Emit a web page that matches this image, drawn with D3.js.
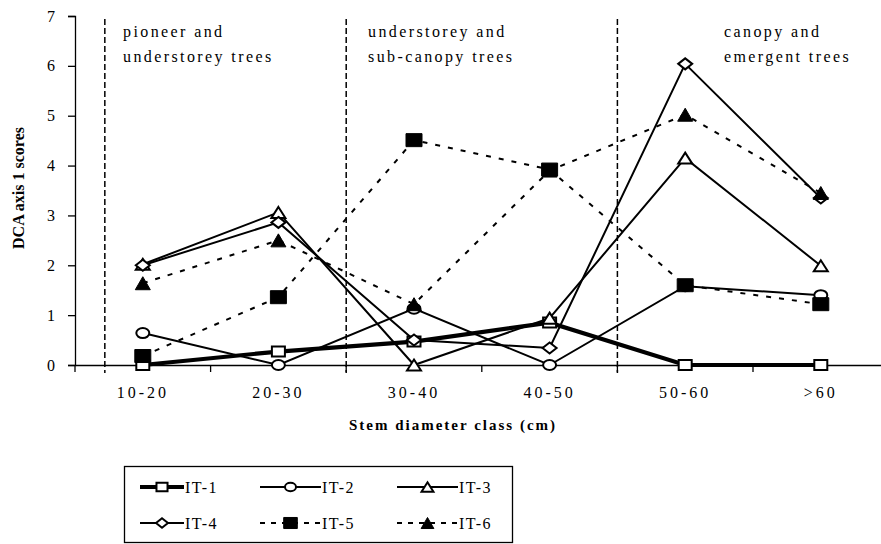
<!DOCTYPE html>
<html>
<head>
<meta charset="utf-8">
<script src="https://cdn.jsdelivr.net/npm/d3@7"></script>
<style>
  html, body { margin: 0; padding: 0; background: #fff; }
  svg { display: block; }
  text { font-family: "Liberation Serif", "Times New Roman", serif; fill: #000; }
</style>
</head>
<body>
<svg id="chart" width="881" height="544"></svg>
<script>
// ---- data ----
const categories = ["10-20", "20-30", "30-40", "40-50", "50-60", ">60"];
const yTicks = [0, 1, 2, 3, 4, 5, 6, 7];
const seriesNames = ["IT-1", "IT-2", "IT-3", "IT-4", "IT-5", "IT-6"];
const it1 = [0, 0.27, 0.47, 0.85, 0, 0];
const it2 = [0.64, 0, 1.13, 0, 1.58, 1.40];
const it3 = [2.02, 3.06, 0, 0.94, 4.15, 1.99];
const it4 = [2.0, 2.86, 0.5, 0.34, 6.04, 3.35];
const it5 = [0.18, 1.36, 4.51, 3.92, 1.6, 1.22];
const it6 = [1.64, 2.5, 1.22, 3.9, 5.02, 3.45];
const zoneBoundaries = [0.22, 2.0, 4.0]; // in category-band units from left edge of axis
const zoneLabels = [
  ["pioneer and", "understorey trees"],
  ["understorey and", "sub-canopy trees"],
  ["canopy and", "emergent trees"]
];
const yLabel = "DCA axis 1 scores";
const xLabel = "Stem diameter class (cm)";

// ---- styles ----
const styles = [
  { shape: "square", fill: "#fff", w: 13, h: 10, width: 4.2, dash: null },
  { shape: "circle", fill: "#fff", w: 13, h: 10, width: 2, dash: null },
  { shape: "triangle", fill: "#fff", w: 14, h: 11, width: 2, dash: null },
  { shape: "diamond", fill: "#fff", w: 14, h: 11, width: 2, dash: null },
  { shape: "square", fill: "#000", w: 16, h: 13, width: 2, dash: "5,8" },
  { shape: "triangle", fill: "#000", w: 15, h: 13, width: 2, dash: "5,8" }
];
const allValues = [it1, it2, it3, it4, it5, it6];

const svg = d3.select("#chart");
const x0 = 75, xEnd = 75 + 6 * 135.6;
const x = d3.scaleBand().domain(categories).range([x0, xEnd]).paddingInner(0).paddingOuter(0);
const y = d3.scaleLinear().domain([0, 7]).range([365, 16]);
const cx = c => x(c) + x.bandwidth() / 2;

// ---- y axis ----
const yAxis = d3.axisLeft(y).tickValues(yTicks).tickSize(7).tickPadding(13).tickFormat(d3.format("d"));
const gy = svg.append("g").attr("transform", `translate(${x0},0)`).call(yAxis);
gy.select(".domain").attr("stroke", "#000").attr("stroke-width", 1.3);
gy.selectAll(".tick line").attr("stroke", "#000").attr("stroke-width", 1.3);
gy.selectAll(".tick text").style("font-size", "16px").style("font-family", "Liberation Serif, serif").attr("fill", "#000");

// ---- x axis ----
const xAxis = d3.axisBottom(x).tickSize(0).tickPadding(0);
const gx = svg.append("g").attr("transform", `translate(0,${y(0)})`).call(xAxis);
gx.select(".domain").attr("stroke", "#000").attr("stroke-width", 1.3);
gx.selectAll(".tick text")
  .attr("y", 33).attr("dy", 0)
  .style("font-size", "16px").style("font-family", "Liberation Serif, serif")
  .style("letter-spacing", "3px").attr("fill", "#000");
// boundary ticks
const boundaries = categories.map(c => x(c)).concat([xEnd]);
gx.selectAll(".bt").data(boundaries).enter().append("line")
  .attr("x1", d => d).attr("x2", d => d).attr("y1", 0).attr("y2", 7)
  .attr("stroke", "#000").attr("stroke-width", 1.3);

// ---- zone dashed lines ----
const zoneX = zoneBoundaries.map(b => x0 + b * x.bandwidth());
svg.selectAll(".zone").data(zoneX).enter().append("line")
  .attr("x1", d => d).attr("x2", d => d).attr("y1", 19).attr("y2", 373)
  .attr("stroke", "#000").attr("stroke-width", 1.5).attr("stroke-dasharray", "6,3");

const zoneTextX = [123, 368, 724];
zoneLabels.forEach((lines, i) => {
  lines.forEach((t, j) => {
    svg.append("text").attr("x", zoneTextX[i]).attr("y", 37 + j * 24.5)
      .style("font-size", "16px").style("letter-spacing", "2.4px").text(t);
  });
});

// ---- markers ----
function markerPath(shape, w, h) {
  const hw = w / 2, hh = h / 2;
  if (shape === "square") return `M${-hw},${-hh}H${hw}V${hh}H${-hw}Z`;
  if (shape === "triangle") return `M0,${-hh}L${hw},${hh}H${-hw}Z`;
  if (shape === "diamond") return `M0,${-hh}L${hw},0L0,${hh}L${-hw},0Z`;
  return null;
}
function drawMarker(g, st, px, py) {
  if (st.shape === "circle") {
    g.append("ellipse").attr("cx", px).attr("cy", py).attr("rx", st.w / 2).attr("ry", st.h / 2)
      .attr("fill", st.fill).attr("stroke", "#000").attr("stroke-width", 2);
  } else {
    g.append("path").attr("d", markerPath(st.shape, st.w, st.h))
      .attr("transform", `translate(${px},${py})`)
      .attr("fill", st.fill).attr("stroke", "#000").attr("stroke-width", st.fill === "#000" ? 1 : 2);
  }
}

// ---- series ----
const line = d3.line().x(d => cx(d.c)).y(d => y(d.v));
allValues.forEach((vals, i) => {
  const st = styles[i];
  const g = svg.append("g");
  const pts = categories.map((c, k) => ({ c, v: vals[k] }));
  g.append("path").attr("d", line(pts)).attr("fill", "none").attr("stroke", "#000")
    .attr("stroke-width", st.width).attr("stroke-dasharray", st.dash).attr("stroke-linejoin", "miter");
  pts.forEach(p => drawMarker(g, st, cx(p.c), y(p.v)));
});

// ---- axis labels ----
svg.append("text").attr("transform", "translate(24,188) rotate(-90)").attr("text-anchor", "middle")
  .style("font-size", "16px").style("font-weight", "bold").text(yLabel);
svg.append("text").attr("x", 453).attr("y", 430).attr("text-anchor", "middle")
  .style("font-size", "15px").style("font-weight", "bold").style("letter-spacing", "2px").text(xLabel);

// ---- legend ----
const lg = svg.append("g");
lg.append("rect").attr("x", 124.5).attr("y", 466.5).attr("width", 388).attr("height", 76)
  .attr("fill", "#fff").attr("stroke", "#000").attr("stroke-width", 1.3);
const colX = [140, 260, 397];
const colLen = [44, 61, 61];
const rowY = [487, 523];
seriesNames.forEach((name, i) => {
  const st = styles[i];
  const c = i % 3;
  const lx = colX[c], ly = rowY[Math.floor(i / 3)], len = colLen[c];
  lg.append("line").attr("x1", lx).attr("x2", lx + len).attr("y1", ly).attr("y2", ly)
    .attr("stroke", "#000").attr("stroke-width", st.width).attr("stroke-dasharray", st.dash ? "5,6" : null);
  drawMarker(lg, { ...st, w: st.w * 0.85, h: st.h * 0.85 }, lx + len / 2, ly);
  lg.append("text").attr("x", lx + len + 1).attr("y", ly + 6)
    .style("font-size", "16px").style("letter-spacing", "1.5px").text(name);
});
</script>
</body>
</html>
